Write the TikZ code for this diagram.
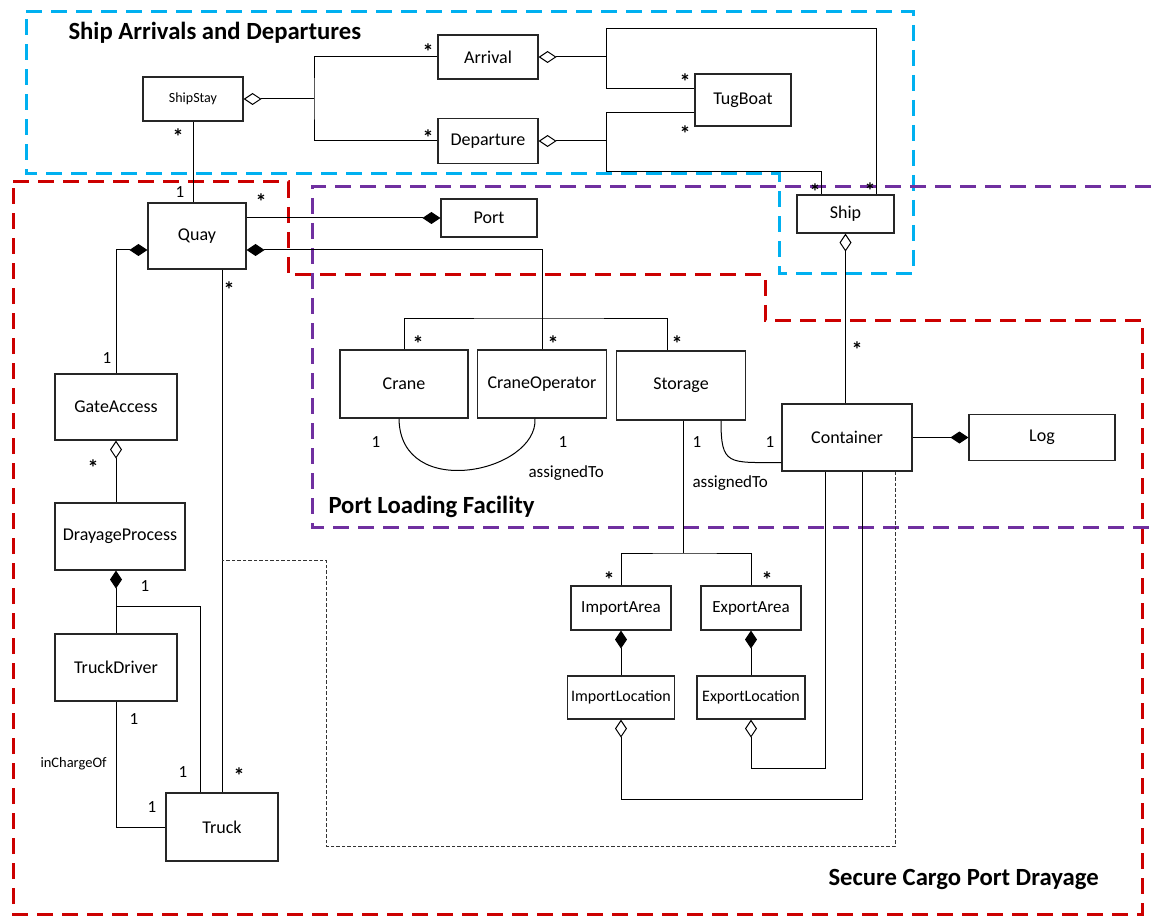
\documentclass[tikz,border=0pt]{standalone}
\usepackage{fontspec}
\setmainfont{Carlito}
\usetikzlibrary{arrows.meta}
\definecolor{regionblue}{RGB}{0,176,240}
\definecolor{regionred}{RGB}{204,0,0}
\definecolor{regionpurple}{RGB}{112,48,160}

\begin{document}
\begin{tikzpicture}
  [x=1pt,y=-1pt,line width=1pt,
   every node/.style={font=\fontsize{18}{20}\selectfont},
   cls/.style={draw=black!85,line width=1.2pt,fill=white,inner sep=0pt},
   mult/.style={inner sep=0pt,font=\fontsize{17}{18}\selectfont},
   many/.style={inner sep=0pt,font=\fontsize{22}{22}\selectfont\bfseries},
   title/.style={anchor=west,inner sep=0pt,font=\fontsize{24.7}{28}\selectfont\bfseries},
   region/.style={line width=3pt,dash pattern=on 16pt off 9pt},
   dotlink/.style={line width=0.8pt,black!80,dash pattern=on 3.5pt off 2pt},
   agg/.style={arrows={Diamond[open,length=18pt,width=12pt]-}},
   comp/.style={arrows={Diamond[length=18pt,width=12pt]-}},
   compend/.style={arrows={-Diamond[length=18pt,width=12pt]}}]
  \useasboundingbox (0,0) rectangle (1151,917);

  % regions
  \draw[region,regionblue] (26,12) -- (913,12) -- (913,274) -- (779,274) -- (779,174) -- (26,174) -- cycle;
  \draw[region,regionred] (13,182) -- (288,182) -- (288,275) -- (765,275) -- (765,320) -- (1142,320) -- (1142,914) -- (13,914) -- cycle;
  \draw[region,regionpurple] (1151,187) -- (312,187) -- (312,527) -- (1151,527);
  \node[title] (t1) at (68,33) {Ship Arrivals and Departures};
  \node[title] (t2) at (328,507) {Port Loading Facility};
  \node[title] (t3) at (828,879) {Secure Cargo Port Drayage};

  % classes
  \node[cls,minimum width=100pt,minimum height=44pt] (shipstay) at (193,99) {\fontsize{14}{16}\selectfont ShipStay};
  \node[cls,minimum width=100pt,minimum height=44pt] (arrival) at (488,57) {Arrival};
  \node[cls,minimum width=100pt,minimum height=45pt] (departure) at (488,141) {Departure};
  \node[cls,minimum width=96pt,minimum height=52pt] (tugboat) at (743,100) {TugBoat};
  \node[cls,minimum width=97pt,minimum height=38pt] (ship) at (845.5,214) {Ship};
  \node[cls,minimum width=96pt,minimum height=38pt] (port) at (489,218) {Port};
  \node[cls,minimum width=98pt,minimum height=66pt] (quay) at (197,236) {Quay};
  \node[cls,minimum width=122pt,minimum height=66pt] (gate) at (116,407) {GateAccess};
  \node[cls,minimum width=130pt,minimum height=67pt] (dray) at (120,536.5) {DrayageProcess};
  \node[cls,minimum width=122pt,minimum height=67pt] (driver) at (116,667.5) {TruckDriver};
  \node[cls,minimum width=112pt,minimum height=68pt] (truck) at (222,827) {Truck};
  \node[cls,minimum width=128pt,minimum height=68pt] (crane) at (404,384) {Crane};
  \node[cls,minimum width=129pt,minimum height=68pt] (craneop) at (542,384) {CraneOperator};
  \node[cls,minimum width=129pt,minimum height=69pt] (storage) at (681,385.5) {Storage};
  \node[cls,minimum width=130pt,minimum height=67pt] (container) at (847,437.5) {Container};
  \node[cls,minimum width=146pt,minimum height=46pt] (log) at (1042,437.5) {Log};
  \node[cls,minimum width=100pt,minimum height=44pt] (importarea) at (621,608) {\fontsize{17}{18}\selectfont ImportArea};
  \node[cls,minimum width=100pt,minimum height=44pt] (exportarea) at (751,608) {\fontsize{17}{18}\selectfont ExportArea};
  \node[cls,minimum width=107pt,minimum height=43pt] (importloc) at (621,697.5) {\fontsize{16}{17}\selectfont ImportLocation};
  \node[cls,minimum width=108pt,minimum height=43pt] (exportloc) at (751,697.5) {\fontsize{16}{17}\selectfont ExportLocation};

  % ship stay
  \coordinate (stayfork) at (314,99);
  \draw[agg] (shipstay.east) -- (stayfork);
  \draw (arrival.west) -| (stayfork) |- (departure.west);
  \coordinate (arrfork) at (606,57);
  \coordinate (arrtop) at (606,29);
  \draw[agg] (arrival.east) -- (arrfork);
  \draw ([yshift=11pt]tugboat.west) -| (arrtop) -| ([xshift=31pt]ship.north);
  \coordinate (depfork) at (606,141);
  \coordinate (depbot) at (606,172);
  \draw[agg] (departure.east) -- (depfork);
  \draw ([yshift=-13pt]tugboat.west) -| (depbot) -| ([xshift=-24pt]ship.north);

  % quay
  \draw (shipstay.south) -- (shipstay.south |- quay.north);
  \draw[compend] ([yshift=18pt]quay.east) -- ([yshift=18pt]quay.east -| port.west);
  \draw[comp] ([yshift=-14pt]quay.west) -| (gate.north);
  \draw[comp] ([yshift=-14pt]quay.east) -| (craneop.north);
  \draw ([xshift=25pt]quay.south) -- ([xshift=25pt]quay.south |- truck.north);
  \coordinate (facfork) at (542,318);
  \draw (crane.north) |- (facfork) -| ([xshift=-14pt]storage.north);

  % gate access
  \draw[agg] (gate.south) -- (gate.south |- dray.north);
  \draw[comp] (dray.south -| gate.south) -- (driver.north -| gate.south);
  \coordinate (drayfork) at (116,606);
  \draw (drayfork) -| ([xshift=-22pt]truck.north);
  \draw (driver.south) |- (truck.west);

  % assignedTo
  \draw ([xshift=-5pt]crane.south) .. controls (400,502) and (538,472) .. ([xshift=-7pt]craneop.south);
  \draw ([xshift=40pt]storage.south) .. controls (721,466) and (728,462.5) .. ([yshift=-25pt]container.west);

  % storage areas
  \coordinate (areafork) at (683,553);
  \draw (storage.south -| areafork) -- (areafork);
  \draw (importarea.north) |- (areafork) -| (exportarea.north);
  \draw[comp] (importarea.south) -- (importloc.north);
  \draw[comp] (exportarea.south) -- (exportloc.north);
  \coordinate (impturn) at (862,799);
  \coordinate (expturn) at (825,768);
  \draw[agg] (importloc.south) |- (impturn) -- (impturn |- container.south);
  \draw[agg] (exportloc.south) |- (expturn) -- (expturn |- container.south);

  % container
  \draw[agg] (ship.south) -- (ship.south |- container.north);
  \draw[compend] (container.east) -- (container.east -| log.west);
  \coordinate (dotcorner) at (326,846);
  \coordinate (dotend) at (222,560);
  \draw[dotlink] ([xshift=48pt]container.south) |- (dotcorner) |- (dotend);

  % multiplicities
  \node[many] (m1) at (428,52) {*};
  \node[many] (m2) at (428,138) {*};
  \node[many] (m3) at (685,82) {*};
  \node[many] (m4) at (685,134) {*};
  \node[many] (m5) at (815,192) {*};
  \node[many] (m6) at (870,191) {*};
  \node[many] (m7) at (178,137) {*};
  \node[mult] (m8) at (180,192) {1};
  \node[many] (m9) at (261,202) {*};
  \node[many] (m10) at (229,290) {*};
  \node[mult] (m11) at (107,358) {1};
  \node[many] (m12) at (93,468) {*};
  \node[mult] (m13) at (145,586) {1};
  \node[many] (m14) at (418,344) {*};
  \node[many] (m15) at (553,344) {*};
  \node[many] (m16) at (677,344) {*};
  \node[mult] (m17) at (376,442) {1};
  \node[mult] (m18) at (563,442) {1};
  \node[mult] (m19) at (697,442) {1};
  \node[mult] (m20) at (770,442) {1};
  \node[many] (m21) at (857,350) {*};
  \node[many] (m22) at (609,580) {*};
  \node[many] (m23) at (767,580) {*};
  \node[mult] (m24) at (134,719) {1};
  \node[mult] (m25) at (183,772) {1};
  \node[mult] (m26) at (152,807) {1};
  \node[many] (m27) at (239,776) {*};
  \node[mult,anchor=west] (a1) at (528,473) {assignedTo};
  \node[mult,anchor=west] (a2) at (692,483) {assignedTo};
  \node[mult,anchor=west,font=\fontsize{14.5}{16}\selectfont] (a3) at (40,764) {inChargeOf};
\end{tikzpicture}
\end{document}
